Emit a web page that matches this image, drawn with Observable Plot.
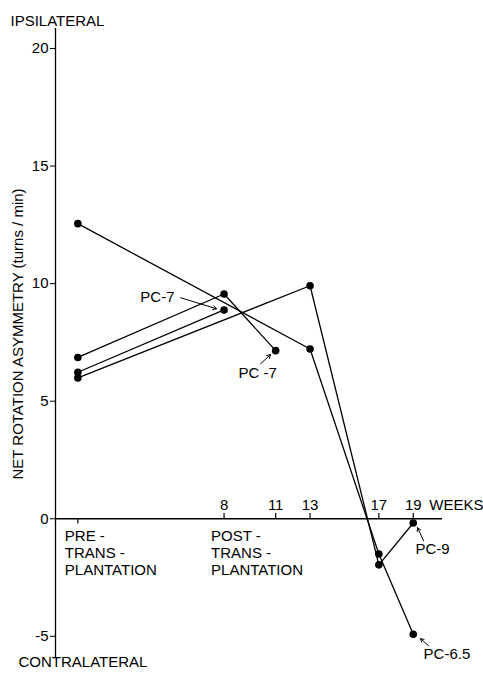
<!DOCTYPE html>
<html><head><meta charset="utf-8">
<script src="https://cdn.jsdelivr.net/npm/d3@7"></script>
<script src="https://cdn.jsdelivr.net/npm/@observablehq/plot@0.6"></script>
<style>body{margin:0;background:#fff;} svg{display:block}</style>
</head><body><div id="chart"></div>
<script>
// ---- data ----
const preWeek = -0.5;                       // position of the pre-transplantation test
const seriesIds = ["s1", "s2", "s3", "s4"];
const seriesWeeks = [
  [preWeek, 13, 17, 19],
  [preWeek, 13, 17, 19],
  [preWeek, 8, 11],
  [preWeek, 8]
];
const seriesValues = [
  [12.55, 7.22, -1.50, -4.91],
  [5.99, 9.91, -1.96, -0.18],
  [6.86, 9.56, 7.15],
  [6.23, 8.88]
];
const xTickWeeks = [8, 11, 13, 17, 19];
const yTicks = [-5, 0, 5, 10, 15, 20];
const phaseLabels = ["PRE -\nTRANS -\nPLANTATION", "POST -\nTRANS -\nPLANTATION"];
const phaseWeeks = [preWeek, 8];
const animalLabels = ["PC-7", "PC -7", "PC-9", "PC-6.5"];
const labelWeeks = [5.12, 8.84, 19.13, 19.6];
const labelValues = [9.44, 6.21, -1.28, -5.78];
const labelAnchors = ["end", "start", "start", "start"];
const arrowFromW = [5.47, 10.12, 19.6, 19.89];
const arrowFromV = [9.40, 6.59, -0.94, -5.40];
const arrowToW = [7.56, 10.70, 19.25, 19.42];
const arrowToV = [8.93, 6.98, -0.38, -5.10];
const yLabel = "NET ROTATION ASYMMETRY (turns / min)";
const topLabel = "IPSILATERAL";
const bottomLabel = "CONTRALATERAL";
const xUnit = "WEEKS";

// ---- tables ----
const points = seriesIds.flatMap((id, i) =>
  seriesWeeks[i].map((w, j) => ({id, week: w, value: seriesValues[i][j]})));
const annotations = animalLabels.map((t, i) => ({
  text: t, week: labelWeeks[i], value: labelValues[i], anchor: labelAnchors[i],
  x1: arrowFromW[i], y1: arrowFromV[i], x2: arrowToW[i], y2: arrowToV[i]
}));

const font = "Liberation Sans, Arial, sans-serif";
const fs = 15;

const chart = Plot.plot({
  width: 483,
  height: 679,
  marginLeft: 55,
  marginRight: 41,
  marginTop: 28,
  marginBottom: 22,
  style: {fontFamily: font, fontSize: fs + "px", color: "#000", background: "#fff"},
  x: {domain: [-1.8, 20.7], axis: null},
  y: {domain: [-5.9, 20.85], axis: null},
  marks: [
    // axes lines
    Plot.ruleX([-1.8], {strokeWidth: 1.3}),
    Plot.ruleY([0], {strokeWidth: 1.3}),
    // y ticks + labels
    Plot.axisY({ticks: yTicks, tickSize: 5, tickPadding: 2, fontSize: fs, label: null, tickFormat: d => d < 0 ? "-" + Math.abs(d) : String(d)}),
    // x ticks upward
    Plot.ruleX(xTickWeeks, {x: d => d, y1: 0, y2: 0.22, strokeWidth: 1.2}),
    Plot.ruleX([preWeek], {x: d => d, y1: 0, y2: -0.22, strokeWidth: 1.2}),
    Plot.text(xTickWeeks, {x: d => d, y: 0, text: d => String(d), dy: -14, fontSize: fs}),
    Plot.text([xUnit], {x: 19, y: 0, text: d => d, dy: -14, dx: 16, textAnchor: "start", fontSize: fs}),
    // phase labels
    Plot.text(phaseLabels, {x: (d, i) => phaseWeeks[i], y: 0, text: d => d, textAnchor: "start", lineAnchor: "top", dx: -13, dy: 10, lineHeight: 1.13, fontSize: fs}),
    // series
    Plot.line(points, {x: "week", y: "value", z: "id", stroke: "#000", strokeWidth: 1.3}),
    Plot.dot(points, {x: "week", y: "value", r: 3.8, fill: "#000", stroke: "none"}),
    // annotations
    Plot.arrow(annotations, {x1: "x1", y1: "y1", x2: "x2", y2: "y2", strokeWidth: 1, headLength: 6, stroke: "#000"}),
    Plot.text(annotations.filter(d => d.anchor === "end"), {x: "week", y: "value", text: "text", textAnchor: "end", fontSize: fs}),
    Plot.text(annotations.filter(d => d.anchor === "start"), {x: "week", y: "value", text: "text", textAnchor: "start", fontSize: fs}),
    // side labels
    Plot.text([topLabel], {frameAnchor: "top-left", text: d => d, dx: -45, dy: -13, textAnchor: "start", fontSize: fs}),
    Plot.text([bottomLabel], {frameAnchor: "bottom-left", text: d => d, dx: -37, dy: 9, textAnchor: "start", fontSize: fs}),
    Plot.text([yLabel], {frameAnchor: "left", text: d => d, rotate: -90, dx: -37, dy: -9, textAnchor: "middle", fontSize: fs})
  ]
});
document.getElementById("chart").appendChild(chart);
</script>
</body></html>
